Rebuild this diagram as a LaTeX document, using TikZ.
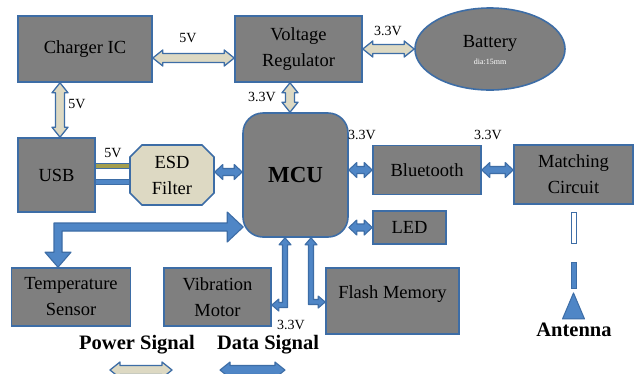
\documentclass[tikz,border=0pt]{standalone}
\usepackage{fontspec}
\setmainfont{Liberation Serif}
\usetikzlibrary{shapes.geometric,shapes.misc,calc,backgrounds}
\definecolor{boxgray}{HTML}{7F7F7F}
\definecolor{edge}{HTML}{3D6DA6}
\definecolor{pwr}{HTML}{DDD9C3}
\definecolor{dat}{HTML}{4F86C6}
\definecolor{olivel}{HTML}{A39E4E}
\tikzset{
 blk/.style={draw=edge, line width=1.6pt, fill=boxgray, inner sep=0pt, align=center, font=\fontsize{18.5}{26}\selectfont},
 pwrarrow/.style={draw=edge, line width=1.3pt, fill=pwr, line join=round},
 datarrow/.style={draw=edge, line width=1.1pt, fill=dat, line join=round},
 vlab/.style={font=\fontsize{14}{16}\selectfont, inner sep=0pt},
 legendtxt/.style={font=\bfseries\fontsize{20.5}{24}\selectfont, inner sep=0pt},
}
% horizontal double arrow: from, to, style, head length, head half width, shaft half width
\newcommand\myharr[6]{%
\path[#3] let \p1=(#1), \p2=(#2) in
 (\x1,\y1) -- (\x1+#4pt,\y1+#5pt) -- (\x1+#4pt,\y1+#6pt) -- (\x2-#4pt,\y1+#6pt) -- (\x2-#4pt,\y1+#5pt) -- (\x2,\y1)
 -- (\x2-#4pt,\y1-#5pt) -- (\x2-#4pt,\y1-#6pt) -- (\x1+#4pt,\y1-#6pt) -- (\x1+#4pt,\y1-#5pt) -- cycle;}
% vertical double arrow: top, bottom, style, L, H, W
\newcommand\myvarr[6]{%
\path[#3] let \p1=(#1), \p2=(#2) in
 (\x1,\y1) -- (\x1+#5pt,\y1-#4pt) -- (\x1+#6pt,\y1-#4pt) -- (\x1+#6pt,\y2+#4pt) -- (\x1+#5pt,\y2+#4pt) -- (\x1,\y2)
 -- (\x1-#5pt,\y2+#4pt) -- (\x1-#6pt,\y2+#4pt) -- (\x1-#6pt,\y1-#4pt) -- (\x1-#5pt,\y1-#4pt) -- cycle;}
\begin{document}
\begin{tikzpicture}[x=1pt,y=-1pt]
\begin{pgfonlayer}{background}
\fill[white] (0,0) rectangle (634,373);
\end{pgfonlayer}
\useasboundingbox (0,0) rectangle (634,373);

% blocks
\node[blk, minimum width=134pt, minimum height=66pt] (charger) at (85,49) {Charger IC};
\node[blk, minimum width=127pt, minimum height=66pt] (vreg) at (298.5,49) {Voltage\\Regulator};
\node[blk, ellipse, minimum width=150pt, minimum height=82pt] (battery) at (490,49) {};
\node[font=\fontsize{18.5}{20}\selectfont, inner sep=0pt] (battxt) at (490,43) {Battery};
\node[font=\fontsize{8}{9}\selectfont, text=white, inner sep=0pt] (battdia) at (490,62) {dia:15mm};
\node[blk, minimum width=77pt, minimum height=74pt] (usb) at (56.5,175) {USB};
\node[blk, fill=pwr, chamfered rectangle, chamfered rectangle xsep=6pt, chamfered rectangle ysep=6pt,
      minimum width=84pt, minimum height=60pt] (esd) at (172,175) {ESD\\Filter};
\node[blk, rounded corners=20pt, minimum width=105pt, minimum height=124pt,
      font=\bfseries\fontsize{23}{26}\selectfont] (mcu) at (295.5,175) {MCU};
\node[blk, minimum width=108pt, minimum height=49pt] (bt) at (427,170) {Bluetooth};
\node[blk, minimum width=119pt, minimum height=59pt] (match) at (573.5,174.5) {Matching\\Circuit};
\node[blk, minimum width=73pt, minimum height=33pt] (led) at (409.5,227.5) {LED};
\node[blk, minimum width=133pt, minimum height=66pt] (flash) at (392.5,301) {};
\node[font=\fontsize{18.5}{20}\selectfont, inner sep=0pt] (flashtxt) at (392.5,294) {Flash Memory};
\node[blk, minimum width=107pt, minimum height=58pt] (vib) at (217.5,297) {Vibration\\Motor};
\node[blk, minimum width=119pt, minimum height=58pt] (temp) at (71,297) {Temperature\\Sensor};

% voltage labels
\node[vlab] (l1) at (188,38) {5V};
\node[vlab] (l2) at (388,31) {3.3V};
\node[vlab] (l3) at (77,104) {5V};
\node[vlab] (l4) at (262,97) {3.3V};
\node[vlab] (l5) at (113,153) {5V};
\node[vlab] (l6) at (362,135) {3.3V};
\node[vlab] (l7) at (488,135) {3.3V};
\node[vlab] (l8) at (291,325) {3.3V};

% legend and antenna labels
\node[legendtxt] (powlab) at (137,345) {Power Signal};
\node[legendtxt] (datlab) at (268,345) {Data Signal};
\node[legendtxt] (antlab) at (574,330) {Antenna};
\coordinate (pw1) at (110,370);
\coordinate (pw2) at (172,370);
\coordinate (dt1) at (220,370);
\coordinate (dt2) at (285,370);

\begin{pgfonlayer}{background}
% power arrows
\myharr{[yshift=-9pt]charger.east}{vreg.west}{pwrarrow}{10}{8}{4.5}
\myharr{vreg.east}{battery.west}{pwrarrow}{10}{8}{4.5}
\myvarr{[xshift=-25pt]charger.south}{usb.north}{pwrarrow}{10}{8}{4.5}
\myvarr{[xshift=-8.5pt]vreg.south}{mcu.north}{pwrarrow}{10}{8}{4.5}
% usb - esd lines
\path[draw=edge, line width=1pt, fill=olivel] let \p1=([yshift=9pt]usb.east), \p2=(esd.west) in
  (\x1,\y1-2.5pt) rectangle (\x2+3pt,\y1+2.5pt);
\path[draw=edge, line width=1pt, fill=dat] let \p1=([yshift=-7pt]usb.east), \p2=(esd.west) in
  (\x1,\y1-2.5pt) rectangle (\x2+3pt,\y1+2.5pt);
% data arrows
\myharr{[yshift=3pt]esd.east}{mcu.west}{datarrow}{8}{7.5}{3.5}
\myharr{mcu.east |- bt.west}{bt.west}{datarrow}{8}{7.5}{3.5}
\myharr{bt.east}{match.west |- bt.east}{datarrow}{8}{7.5}{3.5}
\myharr{mcu.east |- led.west}{led.west}{datarrow}{8}{7.5}{3.5}
% MCU - vibration motor (elbow)
\path[datarrow] let \p1=([xshift=-10.5pt]mcu.south), \p2=([yshift=-8pt]vib.east) in
 (\x1,\y1) -- (\x1+6pt,\y1-7pt) -- (\x1+2.5pt,\y1-7pt) -- (\x1+2.5pt,\y2-2.5pt) -- (\x2+7pt,\y2-2.5pt)
 -- (\x2+7pt,\y2-6pt) -- (\x2,\y2) -- (\x2+7pt,\y2+6pt) -- (\x2+7pt,\y2+2.5pt) -- (\x1-2.5pt,\y2+2.5pt)
 -- (\x1-2.5pt,\y1-7pt) -- (\x1-6pt,\y1-7pt) -- cycle;
% MCU - flash memory (elbow)
\path[datarrow] let \p1=([xshift=15.5pt]mcu.south), \p2=([yshift=-1pt]flash.west) in
 (\x1,\y1) -- (\x1-6pt,\y1-7pt) -- (\x1-2.5pt,\y1-7pt) -- (\x1-2.5pt,\y2-2.5pt) -- (\x2-7pt,\y2-2.5pt)
 -- (\x2-7pt,\y2-6pt) -- (\x2,\y2) -- (\x2-7pt,\y2+6pt) -- (\x2-7pt,\y2+2.5pt) -- (\x1+2.5pt,\y2+2.5pt)
 -- (\x1+2.5pt,\y1-7pt) -- (\x1+6pt,\y1-7pt) -- cycle;
% MCU - temperature sensor (elbow, big heads)
\path[datarrow] let \p1=([yshift=-52pt]mcu.west), \p2=([xshift=-13pt]temp.north) in
 (\x1+1pt,\y1) -- (\x1-15pt,\y1+15pt) -- (\x1-15pt,\y1+4pt) -- (\x2-4pt,\y1+4pt) -- (\x2-4pt,\y2+15pt)
 -- (\x2-13pt,\y2+15pt) -- (\x2,\y2) -- (\x2+13pt,\y2+15pt) -- (\x2+4pt,\y2+15pt) -- (\x2+4pt,\y1-4pt)
 -- (\x1-15pt,\y1-4pt) -- (\x1-15pt,\y1-15pt) -- cycle;
\end{pgfonlayer}

% antenna
\draw[draw=edge, line width=1pt, fill=white] let \p1=(match.south) in (\x1-2.5pt,\y1-8pt) rectangle (\x1+2.5pt,\y1-39pt);
\draw[draw=edge, line width=1pt, fill=dat] let \p1=(match.south) in (\x1-2.5pt,\y1-58pt) rectangle (\x1+2.5pt,\y1-84pt);
\draw[draw=edge, line width=1pt, fill=dat, line join=round] let \p1=(match.south |- antlab.north) in
 (\x1,\y1+30pt) -- (\x1+11pt,\y1+4pt) -- (\x1-11pt,\y1+4pt) -- cycle;

% legend arrows
\myharr{pw1}{pw2}{pwrarrow}{10}{8}{4.5}
\myharr{dt1}{dt2}{datarrow}{10}{8}{4.5}
\end{tikzpicture}
\end{document}
